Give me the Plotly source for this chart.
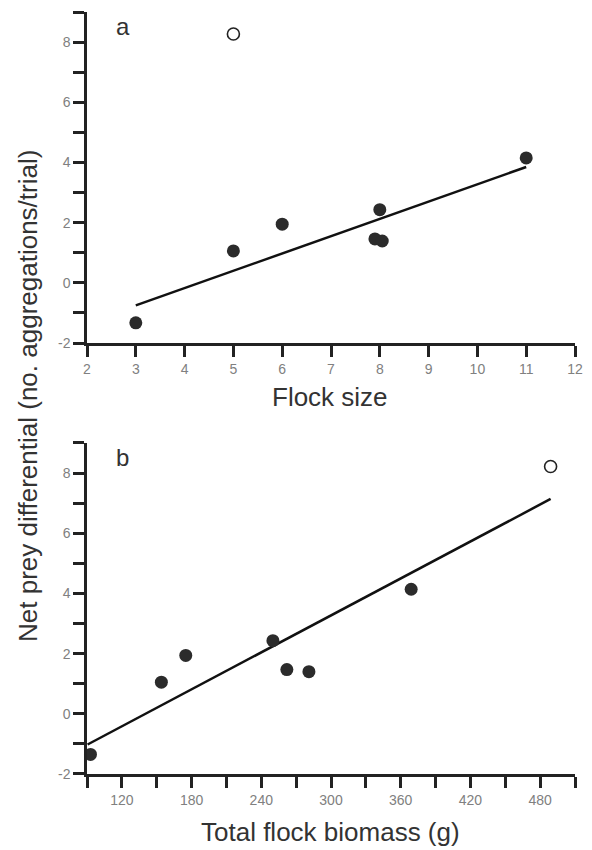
import plotly.graph_objects as go

# ---- data ----
flock_size = [3, 5, 6, 8, 7.9, 8.05, 11]
prey_diff = [-1.33, 1.06, 1.95, 2.43, 1.46, 1.39, 4.15]
flock_size_open = [5]
prey_diff_open = [8.27]
fit_a_x = [3, 11]
fit_a_y = [-0.75, 3.85]

biomass = [93, 154, 175, 250, 262, 281, 369]
prey_diff_b = [-1.35, 1.05, 1.94, 2.43, 1.47, 1.40, 4.14]
biomass_open = [489]
prey_diff_b_open = [8.22]
fit_b_x = [90.5, 489]
fit_b_y = [-1.02, 7.14]

y_tickvals = [-2, -1, 0, 1, 2, 3, 4, 5, 6, 7, 8, 9]
y_ticktext = ["-2", "", "0", "", "2", "", "4", "", "6", "", "8", ""]
xa_tickvals = [2, 3, 4, 5, 6, 7, 8, 9, 10, 11, 12]
xa_ticktext = ["2", "3", "4", "5", "6", "7", "8", "9", "10", "11", "12"]
xb_tickvals = [90, 120, 150, 180, 210, 240, 270, 300, 330, 360, 390, 420, 450, 480, 510]
xb_ticktext = ["", "120", "", "180", "", "240", "", "300", "", "360", "", "420", "", "480", ""]

FONT = "Liberation Sans, Arial, sans-serif"
AX = "#222222"
TICKFONT = dict(family=FONT, size=14, color="#808080")
DOT = "#2b2b2b"

fig = go.Figure()

# panel a
fig.add_trace(go.Scatter(x=fit_a_x, y=fit_a_y, mode="lines",
                         line=dict(color="#111111", width=2.5),
                         xaxis="x", yaxis="y", showlegend=False))
fig.add_trace(go.Scatter(x=flock_size, y=prey_diff, mode="markers",
                         marker=dict(color=DOT, size=13, line=dict(width=0)),
                         xaxis="x", yaxis="y", showlegend=False, cliponaxis=False))
fig.add_trace(go.Scatter(x=flock_size_open, y=prey_diff_open, mode="markers",
                         marker=dict(color="white", size=12, line=dict(color="#222", width=1.6)),
                         xaxis="x", yaxis="y", showlegend=False, cliponaxis=False))

# panel b
fig.add_trace(go.Scatter(x=fit_b_x, y=fit_b_y, mode="lines",
                         line=dict(color="#111111", width=2.5),
                         xaxis="x2", yaxis="y2", showlegend=False))
fig.add_trace(go.Scatter(x=biomass, y=prey_diff_b, mode="markers",
                         marker=dict(color=DOT, size=13, line=dict(width=0)),
                         xaxis="x2", yaxis="y2", showlegend=False, cliponaxis=False))
fig.add_trace(go.Scatter(x=biomass_open, y=prey_diff_b_open, mode="markers",
                         marker=dict(color="white", size=12, line=dict(color="#222", width=1.6)),
                         xaxis="x2", yaxis="y2", showlegend=False, cliponaxis=False))

common_axis = dict(showline=True, linecolor=AX, linewidth=2.5, ticks="outside",
                   ticklen=11, tickwidth=2.5, tickcolor=AX, showgrid=False,
                   zeroline=False, tickfont=TICKFONT, mirror=False, tickmode="array")

fig.update_layout(
    width=592, height=850,
    margin=dict(l=87, r=9, t=12, b=76),
    paper_bgcolor="white", plot_bgcolor="white",
    xaxis=dict(common_axis, range=[2, 12], tickvals=xa_tickvals, ticktext=xa_ticktext,
               domain=[0, 1], anchor="y"),
    yaxis=dict(common_axis, range=[-2, 9], tickvals=y_tickvals, ticktext=y_ticktext,
               domain=[0.5656, 1], anchor="x"),
    xaxis2=dict(common_axis, range=[90, 510], tickvals=xb_tickvals, ticktext=xb_ticktext,
                domain=[0, 1], anchor="y2"),
    yaxis2=dict(common_axis, range=[-2, 9], tickvals=y_tickvals, ticktext=y_ticktext,
                domain=[0, 0.4344], anchor="x2"),
    annotations=[
        dict(text="a", xref="paper", yref="paper", x=0.073, y=(774 - 26) / 762,
             xanchor="center", yanchor="middle", showarrow=False,
             font=dict(family=FONT, size=24, color="#333")),
        dict(text="b", xref="paper", yref="paper", x=0.072, y=(774 - 457) / 762,
             xanchor="center", yanchor="middle", showarrow=False,
             font=dict(family=FONT, size=24, color="#333")),
        dict(text="Flock size", xref="paper", yref="paper", x=0.4986, y=(774 - 397) / 762,
             xanchor="center", yanchor="middle", showarrow=False,
             font=dict(family=FONT, size=26, color="#333")),
        dict(text="Total flock biomass (g)", xref="paper", yref="paper", x=0.4986,
             y=(774 - 832) / 762, xanchor="center", yanchor="middle", showarrow=False,
             font=dict(family=FONT, size=26, color="#333")),
        dict(text="Net prey differential (no. aggregations/trial)", xref="paper", yref="paper",
             x=(27 - 87) / 496, y=(774 - 396) / 762, xanchor="center", yanchor="middle",
             textangle=-90, showarrow=False,
             font=dict(family=FONT, size=26, color="#333")),
    ],
)

fig.write_html("out.html",
               config={"displayModeBar": False},
               post_script="document.body.style.margin='0px';document.body.style.overflow='hidden';")
